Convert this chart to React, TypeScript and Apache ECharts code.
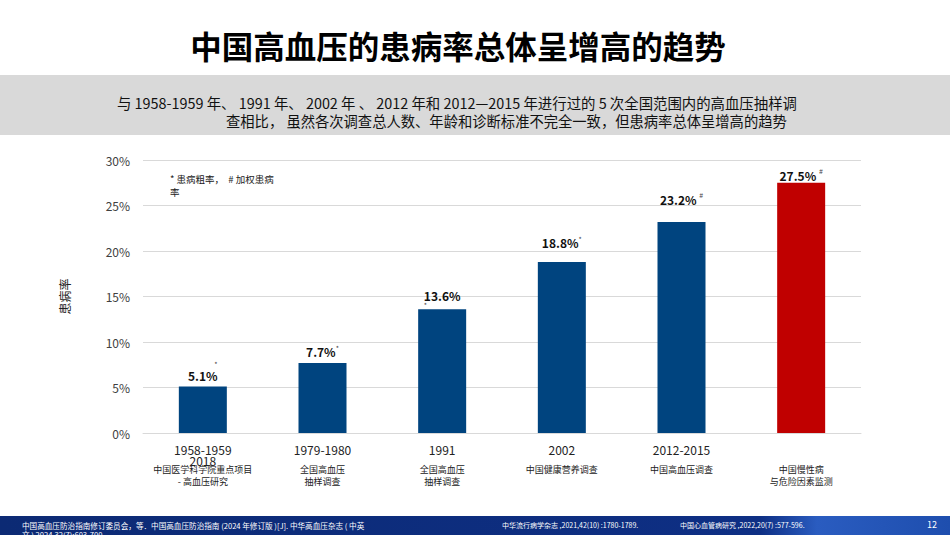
import React, { useEffect, useRef } from "react";
import * as echarts from "echarts";

const yearLabels = ["1958-1959\n2018", "1979-1980", "1991", "2002", "2012-2015", ""];
const surveyLabels = [
  "中国医学科学院重点项目\n- 高血压研究",
  "全国高血压\n抽样调查",
  "全国高血压\n抽样调查",
  "中国健康营养调查",
  "中国高血压调查",
  "中国慢性病\n与危险因素监测",
];
const prevalence = [5.1, 7.7, 13.6, 18.8, 23.2, 27.5];
const markers = ["*", "*", "*", "*", "#", "#"];
const markerPlacement = ["above", "sup", "below", "sup", "high", "high"];
const labelGap = [4, 4, 1, 12, 16, 1];

const FONT = "'Noto Sans CJK SC', 'Noto Sans', sans-serif";
const BLUE = "#00447f";
const RED = "#c00000";

export default function App() {
  const ref = useRef<HTMLDivElement>(null);
  useEffect(() => {
    document.body.style.margin = "0";
    const chart = echarts.init(ref.current!, undefined, { renderer: "svg" });
    const last = prevalence.length - 1;
    chart.setOption({
      animation: false,
      backgroundColor: "#ffffff",
      textStyle: { fontFamily: FONT },
      grid: { left: 143, right: 89, top: 160, bottom: 102, containLabel: false },
      xAxis: [
        {
          type: "category",
          data: yearLabels,
          axisLine: { lineStyle: { color: "#d9d9d9" } },
          axisTick: { show: false },
          axisLabel: { interval: 0, fontSize: 12, color: "#222", margin: 11, lineHeight: 11, fontFamily: FONT },
        },
        {
          type: "category",
          position: "bottom",
          offset: 30,
          data: surveyLabels,
          axisLine: { show: false },
          axisTick: { show: false },
          axisLabel: { interval: 0, fontSize: 9, color: "#222", margin: 0, lineHeight: 12, fontFamily: FONT },
        },
      ],
      yAxis: {
        type: "value",
        min: 0,
        max: 30,
        interval: 5,
        name: "患病率",
        nameLocation: "middle",
        nameGap: 73,
        nameRotate: 90,
        nameTextStyle: { fontSize: 12, color: "#222", fontFamily: FONT },
        axisLine: { show: false },
        axisTick: { show: false },
        axisLabel: { formatter: "{value}%", fontSize: 12, color: "#404040", margin: 13, fontFamily: FONT },
        splitLine: { lineStyle: { color: "#d9d9d9", width: 1 } },
      },
      series: [
        {
          type: "bar",
          xAxisIndex: 0,
          barWidth: 48,
          data: prevalence.map((v, i) => ({
            value: v,
            itemStyle: { color: i === last ? RED : BLUE },
            label: { distance: labelGap[i] },
          })),
          label: {
            show: true,
            position: "top",
            formatter: (p: any) => {
              const i = p.dataIndex;
              const txt = prevalence[i].toFixed(1) + "%";
              const m = markers[i];
              const pl = markerPlacement[i];
              if (pl === "above") return `{sa|${m}}\n{v|${txt}}`;
              if (pl === "below") return `{v|${txt}}\n{sb|${m}}`;
              if (pl === "high") return `{vb|${txt}} {sh|${m}}`;
              return `{v|${txt}}{s|${m}}`;
            },
            rich: {
              v: { fontSize: 12, fontWeight: "bold", color: "#111", lineHeight: 14, fontFamily: FONT },
              vb: { fontSize: 12, fontWeight: "bold", color: "#111", lineHeight: 14, verticalAlign: "bottom", fontFamily: FONT },
              s: { fontSize: 7, color: "#444", lineHeight: 8, verticalAlign: "top", fontFamily: FONT },
              sh: { fontSize: 7, color: "#444", lineHeight: 8, padding: [0, 0, 12, 0], verticalAlign: "top", fontFamily: FONT },
              sa: { fontSize: 7, color: "#444", lineHeight: 10, align: "right", fontFamily: FONT },
              sb: { fontSize: 7, color: "#444", lineHeight: 6, align: "left", fontFamily: FONT },
            },
          },
        },
      ],
      graphic: [
        {
          type: "text",
          x: 458,
          y: 45,
          style: {
            text: "中国高血压的患病率总体呈增高的趋势",
            fontSize: 31.5,
            fontWeight: "bold",
            fill: "#000",
            fontFamily: FONT,
            align: "center",
            verticalAlign: "middle",
          },
          z: 10,
        },
        {
          type: "rect",
          shape: { x: 0, y: 75, width: 950, height: 60 },
          style: { fill: "#d9d9d9" },
          z: 1,
        },
        {
          type: "text",
          x: 117,
          y: 102,
          style: {
            text: "与 1958-1959 年、 1991 年、 2002 年 、 2012 年和 2012—2015 年进行过的 5 次全国范围内的高血压抽样调",
            fontSize: 14.4,
            fill: "#111",
            fontFamily: FONT,
            verticalAlign: "middle",
          },
          z: 10,
        },
        {
          type: "text",
          x: 226,
          y: 120,
          style: {
            text: "查相比， 虽然各次调查总人数、年龄和诊断标准不完全一致，但患病率总体呈增高的趋势",
            fontSize: 14.3,
            fill: "#111",
            fontFamily: FONT,
            verticalAlign: "middle",
          },
          z: 10,
        },
        {
          type: "text",
          x: 170,
          y: 172,
          style: {
            text: "* 患病粗率，  # 加权患病\n率",
            fontSize: 9.5,
            lineHeight: 13,
            fill: "#222",
            fontFamily: FONT,
          },
          z: 10,
        },
        {
          type: "rect",
          shape: { x: 0, y: 516, width: 950, height: 19 },
          style: {
            fill: new echarts.graphic.LinearGradient(0, 0, 1, 0, [
              { offset: 0, color: "#0c2a74" },
              { offset: 0.8, color: "#0e2f84" },
              { offset: 0.86, color: "#2a5cc0" },
              { offset: 1, color: "#1e4eae" },
            ]),
          },
          z: 5,
        },
        {
          type: "text",
          x: 22,
          y: 521,
          style: {
            text: "中国高血压防治指南修订委员会，等．中国高血压防治指南 (2024 年修订版 )[J]. 中华高血压杂志 ( 中英\n文 ) 2024,32(7):603-700.",
            fontSize: 7.6,
            lineHeight: 9,
            fill: "#ffffff",
            fontFamily: FONT,
          },
          z: 10,
        },
        {
          type: "text",
          x: 502,
          y: 521,
          style: { text: "中华流行病学杂志 ,2021,42(10) :1780-1789.", fontSize: 7, fill: "#ffffff", fontFamily: FONT },
          z: 10,
        },
        {
          type: "text",
          x: 680,
          y: 521,
          style: { text: "中国心血管病研究 ,2022,20(7) :577-596.", fontSize: 7, fill: "#ffffff", fontFamily: FONT },
          z: 10,
        },
        {
          type: "text",
          x: 927,
          y: 520,
          style: { text: "12", fontSize: 9, fill: "#ffffff", fontFamily: FONT },
          z: 10,
        },
      ],
    });
    return () => chart.dispose();
  }, []);
  return <div ref={ref} style={{ width: 950, height: 535 }} />;
}
